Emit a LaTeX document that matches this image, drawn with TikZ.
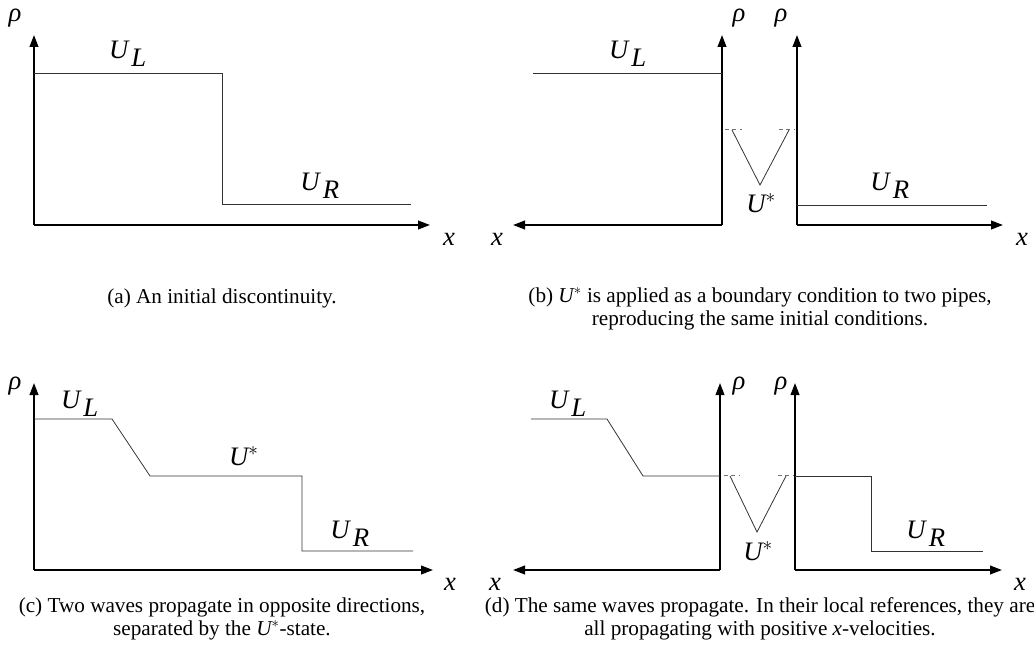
\documentclass[tikz,border=0pt]{standalone}
\usepackage{fontspec}
\setmainfont{Liberation Serif}
\usetikzlibrary{arrows.meta}
\newcommand{\UL}{$\textit{U}_{\mkern3mu\textit{L}}$}
\newcommand{\UR}{$\textit{U}_{\mkern3mu\textit{R}}$}
\newcommand{\Ustar}{$\textit{U}^{*}$}
\newcommand{\rhoit}{\textit{ρ}}
\newcommand{\xit}{\textit{x}}

\begin{document}
\begin{tikzpicture}[x=0.75pt, y=-0.75pt, >={Triangle[length=9pt, width=6.5pt]},
    axis/.style={->, line width=1.4pt},
    curve/.style={line width=0.6pt, black!80},
    ghost/.style={line width=0.6pt, black!55, dash pattern=on 3pt off 2.5pt},
    lbl/.style={font=\fontsize{20}{24}\selectfont},
    caption/.style={font=\fontsize{15.9}{17.5}\selectfont, align=center}]
    \useasboundingbox (0,0) rectangle (1034,663);

    % (a) initial discontinuity
    \coordinate (oa) at (34,225);
    \draw [axis] (oa) -- (430,225);
    \draw [axis] (oa) -- (34,35);
    \draw [curve] (34,73) -- (222,73) -- (222,204) -- (411,204);
    \node [lbl] (rhoa) at (15,18) {\rhoit};
    \node [lbl] (xa) at (449,239) {\xit};
    \node [lbl] (ula) at (128,54) {\UL};
    \node [lbl] (ura) at (320,186) {\UR};
    \node [caption] (capa) at (222,298) {(a) An initial discontinuity.};

    % (b) two pipes with boundary state
    \coordinate (obl) at (722,225);
    \coordinate (obr) at (797,225);
    \draw [axis] (obl) -- (513,225);
    \draw [axis] (obl) -- (722,35);
    \draw [axis] (obr) -- (1003,225);
    \draw [axis] (obr) -- (797,35);
    \draw [curve] (533,73) -- (722,73);
    \draw [curve] (797,205) -- (987,205);
    \draw [ghost] (725,129) -- (742,129);
    \draw [ghost] (779,129) -- (795,129);
    \draw [curve] (732,130) -- (760,185) -- (789,130);
    \node [lbl] (rhobl) at (739,18) {\rhoit};
    \node [lbl] (rhobr) at (781,18) {\rhoit};
    \node [lbl] (xbl) at (497,239) {\xit};
    \node [lbl] (xbr) at (1022,239) {\xit};
    \node [lbl] (ulb) at (628,54) {\UL};
    \node [lbl] (usb) at (761,203) {\Ustar};
    \node [lbl] (urb) at (890,186) {\UR};
    \node [caption] (capb) at (760,309) {(b) \Ustar{} is applied as a boundary condition to two pipes,\\reproducing the same initial conditions.};

    % (c) waves in opposite directions
    \coordinate (oc) at (34,570);
    \draw [axis] (oc) -- (433,570);
    \draw [axis] (oc) -- (34,383);
    \draw [curve] (34,419) -- (112,419) -- (150,476) -- (302,476) -- (302,551) -- (413,551);
    \node [lbl] (rhoc) at (15,386) {\rhoit};
    \node [lbl] (xc) at (450,584) {\xit};
    \node [lbl] (ulc) at (80,404) {\UL};
    \node [lbl] (usc) at (244,456) {\Ustar};
    \node [lbl] (urc) at (350,534) {\UR};
    \node [caption] (capc) at (222,619) {(c) Two waves propagate in opposite directions,\\separated by the \Ustar-state.};

    % (d) local references
    \coordinate (odl) at (720,570);
    \coordinate (odr) at (795,570);
    \draw [axis] (odl) -- (513,570);
    \draw [axis] (odl) -- (720,383);
    \draw [axis] (odr) -- (1002,570);
    \draw [axis] (odr) -- (795,383);
    \draw [curve] (531,419) -- (607,419) -- (643,476) -- (720,476);
    \draw [curve] (795,476) -- (871,476) -- (871,551) -- (983,551);
    \draw [ghost] (724,475) -- (740,475);
    \draw [ghost] (778,475) -- (793,475);
    \draw [curve] (730,476) -- (757,532) -- (786,476);
    \node [lbl] (rhodl) at (739,386) {\rhoit};
    \node [lbl] (rhodr) at (781,386) {\rhoit};
    \node [lbl] (xdl) at (495,584) {\xit};
    \node [lbl] (xdr) at (1020,584) {\xit};
    \node [lbl] (uld) at (568,404) {\UL};
    \node [lbl] (usd) at (758,551) {\Ustar};
    \node [lbl] (urd) at (926,534) {\UR};
    \node [caption] (capd) at (760,619) {(d) The same waves propagate. In their local references, they are\\all propagating with positive \xit-velocities.};
\end{tikzpicture}
\end{document}
